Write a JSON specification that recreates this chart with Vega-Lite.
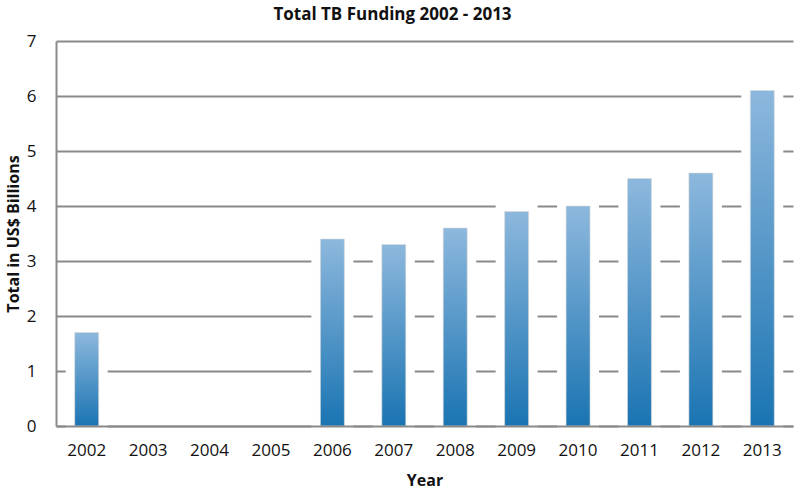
{
  "$schema": "https://vega.github.io/schema/vega-lite/v6.json",
  "width": 737,
  "height": 385,
  "autosize": "none",
  "padding": {"left": 56, "top": 41, "right": 4, "bottom": 64},
  "background": "#ffffff",
  "title": {
    "text": "Total TB Funding 2002 - 2013",
    "font": "Open Sans",
    "fontSize": 17,
    "fontWeight": "bold",
    "color": "#111111",
    "anchor": "middle",
    "dx": -32,
    "offset": 8
  },
  "data": {
    "values": [
      {"Year": "2002", "Total": 1.7},
      {"Year": "2006", "Total": 3.4},
      {"Year": "2007", "Total": 3.3},
      {"Year": "2008", "Total": 3.6},
      {"Year": "2009", "Total": 3.9},
      {"Year": "2010", "Total": 4.0},
      {"Year": "2011", "Total": 4.5},
      {"Year": "2012", "Total": 4.6},
      {"Year": "2013", "Total": 6.1}
    ]
  },
  "encoding": {
    "x": {
      "field": "Year",
      "type": "nominal",
      "scale": {
        "domain": ["2002", "2003", "2004", "2005", "2006", "2007", "2008", "2009", "2010", "2011", "2012", "2013"],
        "paddingInner": 0,
        "paddingOuter": 0
      },
      "axis": {
        "title": "Year",
        "titleFont": "Open Sans",
        "titleFontSize": 16,
        "titleFontWeight": "bold",
        "titleColor": "#111111",
        "titlePadding": 14,
        "labelFont": "Open Sans",
        "labelFontSize": 17,
        "labelColor": "#111111",
        "labelAngle": 0,
        "labelPadding": 16,
        "ticks": false,
        "domainColor": "#8a8a8a",
        "domainWidth": 2,
        "zindex": 1
      }
    },
    "y": {
      "field": "Total",
      "type": "quantitative",
      "scale": {"domain": [0, 7], "nice": false},
      "axis": {
        "title": "Total in US$ Billions",
        "titleFont": "Open Sans",
        "titleFontSize": 16,
        "titleFontWeight": "bold",
        "titleColor": "#111111",
        "titlePadding": 5,
        "labelFont": "Open Sans",
        "labelFontSize": 17,
        "labelColor": "#111111",
        "labelPadding": 20,
        "ticks": false,
        "values": [0, 1, 2, 3, 4, 5, 6, 7],
        "grid": true,
        "gridColor": "#8a8a8a",
        "gridWidth": 2,
        "domainColor": "#8a8a8a",
        "domainWidth": 2,
        "zindex": 0
      }
    }
  },
  "layer": [
    {
      "mark": {
        "type": "bar",
        "width": {"band": 0.39},
        "color": "#ffffff",
        "stroke": "#ffffff",
        "strokeWidth": 18
      }
    },
    {
      "mark": {
        "type": "bar",
        "width": {"band": 0.39},
        "stroke": "#d8d8d8",
        "strokeWidth": 1,
        "strokeOpacity": 0.6,
        "color": {
          "gradient": "linear",
          "x1": 0, "y1": 0, "x2": 0, "y2": 1,
          "stops": [
            {"offset": 0, "color": "#8db8dd"},
            {"offset": 1, "color": "#1a74b2"}
          ]
        }
      }
    }
  ],
  "config": {"view": {"stroke": null}}
}
